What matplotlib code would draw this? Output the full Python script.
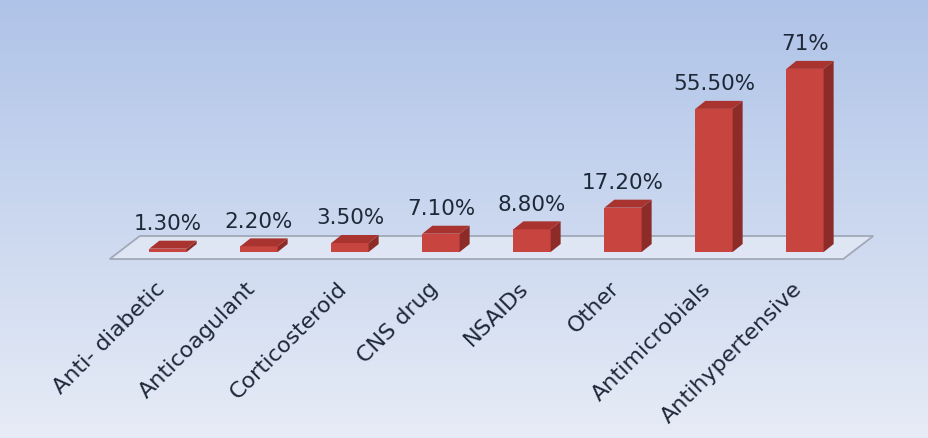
import numpy as np
import matplotlib.pyplot as plt
from matplotlib.patches import Polygon

plt.rcParams['font.family'] = ['DejaVu Sans']

categories = ['Anti- diabetic', 'Anticoagulant', 'Corticosteroid', 'CNS drug',
              'NSAIDs', 'Other', 'Antimicrobials', 'Antihypertensive']
values = [1.3, 2.2, 3.5, 7.1, 8.8, 17.2, 55.5, 71]
value_labels = ['1.30%', '2.20%', '3.50%', '7.10%', '8.80%', '17.20%', '55.50%', '71%']

# colours of the 3d bars
front_col = '#c8443f'
side_col = '#8c2b28'
top_col = '#a9332f'
text_col = '#1e2838'

fig = plt.figure(figsize=(9.29, 4.39), dpi=100)
ax = fig.add_axes([0, 0, 1, 1])
ax.set_xlim(-1.846, 8.363)
ax.set_ylim(-72.1, 98.1)
ax.axis('off')

# gradient background
grad = np.linspace(0, 1, 256).reshape(-1, 1)
top_rgb = np.array([0.686, 0.765, 0.910])
bot_rgb = np.array([0.905, 0.925, 0.965])
img = top_rgb + (bot_rgb - top_rgb) * grad
ax.imshow(img[:, None, :].repeat(2, axis=1), extent=(-1.846, 8.363, -72.1, 98.1),
          aspect='auto', zorder=0, origin='upper')

# floor
ddx, ddy = 0.33, 8.9   # floor depth
fx0, fx1, fy = -0.64, 7.42, -2.7
floor = Polygon([(fx0, fy), (fx1, fy), (fx1 + ddx, fy + ddy), (fx0 + ddx, fy + ddy)],
                closed=True, facecolor='#eaeef7', edgecolor='#7d8592', lw=1.3,
                alpha=0.6, zorder=1)
ax.add_patch(floor)

# bars
w = 0.41
bdx, bdy = 0.11, 3.1
for i, v in enumerate(values):
    x0, x1 = i - w / 2, i + w / 2
    ax.add_patch(Polygon([(x0, 0), (x1, 0), (x1, v), (x0, v)],
                         facecolor=front_col, edgecolor='none', zorder=3))
    ax.add_patch(Polygon([(x1, 0), (x1 + bdx, bdy), (x1 + bdx, v + bdy), (x1, v)],
                         facecolor=side_col, edgecolor='none', zorder=3))
    ax.add_patch(Polygon([(x0, v), (x1, v), (x1 + bdx, v + bdy), (x0 + bdx, v + bdy)],
                         facecolor=top_col, edgecolor='none', zorder=3))
    ax.text(i, v + bdy + 3.0, value_labels[i], ha='center', va='bottom',
            fontsize=15.5, color=text_col, zorder=4)
    ax.text(i - 0.07, -12.5, categories[i], ha='right', va='center', rotation=45,
            rotation_mode='anchor', fontsize=16, color=text_col, zorder=4)

fig.savefig('out.png', dpi=100)
